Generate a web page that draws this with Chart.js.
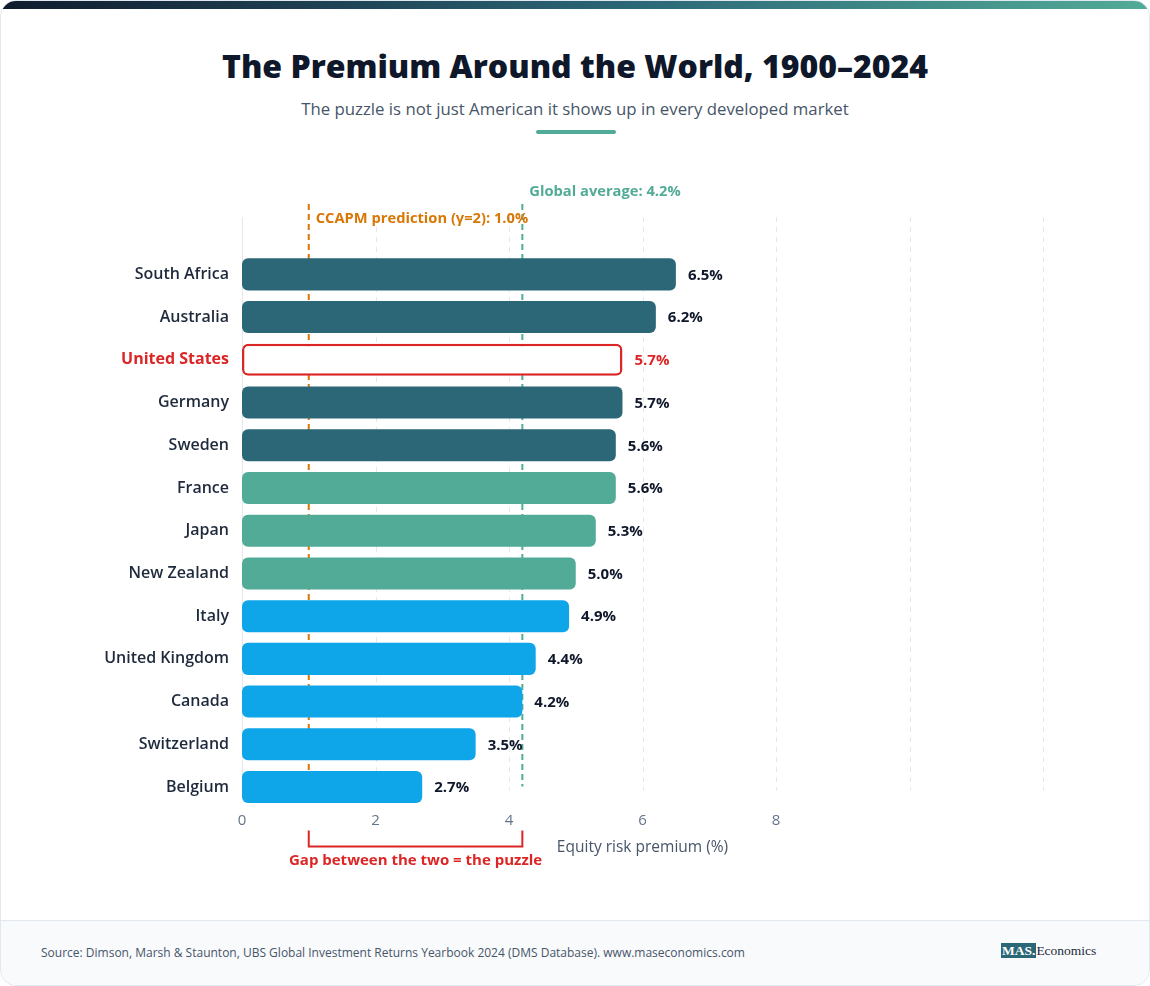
<!DOCTYPE html>
<html>
<head>
<meta charset="utf-8">
<script src="https://cdn.jsdelivr.net/npm/chart.js@4.4.1/dist/chart.umd.min.js"></script>
<style>
  html, body { margin: 0; padding: 0; background: #ffffff; }
  body { width: 1150px; height: 986px; position: relative; font-family: "Open Sans", sans-serif; }
  .card {
    position: absolute; left: 0; top: 0; width: 1150px; height: 986px;
    box-sizing: border-box; border: 1px solid #e2e8f0; border-radius: 16px;
    overflow: hidden; background: #ffffff;
  }
  .topbar {
    position: absolute; left: 0; top: 0; width: 100%; height: 8px;
    background: linear-gradient(90deg, #0f1b2d 0%, #2c6777 55%, #52ab97 100%);
  }
  h1 {
    position: absolute; left: 0; top: 45px; width: 100%; margin: 0;
    text-align: center; font-size: 32px; line-height: 40px; font-weight: 800;
    color: #0f172a; letter-spacing: 0;
  }
  .sub {
    position: absolute; left: 0; top: 96px; width: 100%; margin: 0;
    text-align: center; font-size: 16.8px; line-height: 24px; color: #475569;
  }
  .accent {
    position: absolute; left: 535px; top: 129px; width: 80px; height: 4px;
    border-radius: 2px; background: #52ab97;
  }
  .chart-wrap { position: absolute; left: 0; top: 150px; width: 1150px; height: 770px; }
  footer {
    position: absolute; left: 0; top: 919px; width: 100%; height: 67px;
    background: #f8fafc; border-top: 1px solid #e2e8f0;
  }
  .source {
    position: absolute; left: 40px; top: 24px; font-size: 12px; line-height: 16px; color: #475569;
  }
  .logo {
    position: absolute; left: 1000px; top: 22px; font-family: "Liberation Serif", "DejaVu Serif", serif;
    font-size: 13.5px; line-height: 16px; color: #1e293b;
  }
  .logo b { background: #2c6777; color: #ffffff; padding: 0 1px; font-weight: 700; }
</style>
</head>
<body>
<div class="card">
  <div class="topbar"></div>
  <h1>The Premium Around the World, 1900–2024</h1>
  <p class="sub">The puzzle is not just American it shows up in every developed market</p>
  <div class="accent"></div>
  <div class="chart-wrap"><canvas id="premiumChart"></canvas></div>
  <footer>
    <div class="source">Source: Dimson, Marsh &amp; Staunton, UBS Global Investment Returns Yearbook 2024 (DMS Database). www.maseconomics.com</div>
    <div class="logo"><b>MAS.</b>Economics</div>
  </footer>
</div>
<script>
const countries = ['South Africa', 'Australia', 'United States', 'Germany', 'Sweden', 'France', 'Japan',
  'New Zealand', 'Italy', 'United Kingdom', 'Canada', 'Switzerland', 'Belgium'];
const premiums = [6.5, 6.2, 5.7, 5.7, 5.6, 5.6, 5.3, 5.0, 4.9, 4.4, 4.2, 3.5, 2.7];
const tiers = ['top', 'top', 'us', 'top', 'top', 'mid', 'mid', 'mid', 'low', 'low', 'low', 'low', 'low'];
const ccapmPrediction = 1.0;
const globalAverage = 4.2;
const axisMax = 12;
const lastLabelledTick = 8;

const tierColors = { top: '#2c6777', mid: '#52ab97', low: '#0ea5e9', us: '#ffffff' };
const red = '#dc2626';
const orange = '#d97706';
const teal = '#52ab97';
const ink = '#0f172a';

// grid + the two reference lines, drawn under the bars
const backdrop = {
  id: 'backdrop',
  beforeDatasetsDraw(chart) {
    const { ctx, chartArea, scales: { x } } = chart;
    ctx.save();
    ctx.lineWidth = 1;
    ctx.strokeStyle = '#e5e7eb';
    x.ticks.forEach(t => {
      const px = Math.round(x.getPixelForValue(t.value)) + 0.5;
      ctx.setLineDash(t.value === 0 ? [] : [5, 5]);
      ctx.beginPath();
      ctx.moveTo(px, chartArea.top - 36);
      ctx.lineTo(px, chartArea.bottom - 18);
      ctx.stroke();
    });

    const refLine = (value, color) => {
      const px = x.getPixelForValue(value);
      ctx.strokeStyle = color;
      ctx.lineWidth = 2;
      ctx.setLineDash([6, 4]);
      ctx.beginPath();
      ctx.moveTo(px, chartArea.top - 49);
      ctx.lineTo(px, chartArea.bottom - 22);
      ctx.stroke();
    };
    refLine(ccapmPrediction, orange);
    refLine(globalAverage, teal);

    ctx.setLineDash([]);
    ctx.font = '700 14.7px "Open Sans"';
    ctx.textBaseline = 'middle';
    ctx.textAlign = 'left';
    ctx.fillStyle = orange;
    ctx.fillText('CCAPM prediction (γ=2): 1.0%', x.getPixelForValue(ccapmPrediction) + 7, chartArea.top - 34);
    ctx.fillStyle = teal;
    ctx.fillText('Global average: 4.2%', x.getPixelForValue(globalAverage) + 7, chartArea.top - 61);
    ctx.restore();
  },
  afterDatasetsDraw(chart) {
    const { ctx, chartArea, scales: { x } } = chart;
    ctx.save();
    ctx.font = '700 15px "Open Sans"';
    ctx.textBaseline = 'middle';
    ctx.textAlign = 'left';
    chart.getDatasetMeta(0).data.forEach((bar, i) => {
      ctx.fillStyle = tiers[i] === 'us' ? red : ink;
      ctx.fillText(premiums[i].toFixed(1) + '%', bar.x + 12, bar.y + 1);
    });

    // bracket marking the gap between the prediction and the average
    const x1 = x.getPixelForValue(ccapmPrediction);
    const x2 = x.getPixelForValue(globalAverage);
    const yTop = chartArea.bottom + 22;
    const yBot = chartArea.bottom + 38;
    ctx.strokeStyle = red;
    ctx.lineWidth = 2;
    ctx.beginPath();
    ctx.moveTo(x1, yTop);
    ctx.lineTo(x1, yBot);
    ctx.lineTo(x2, yBot);
    ctx.lineTo(x2, yTop);
    ctx.stroke();
    ctx.fillStyle = red;
    ctx.textAlign = 'center';
    ctx.fillText('Gap between the two = the puzzle', (x1 + x2) / 2, yBot + 14);
    ctx.restore();
  }
};

new Chart(document.getElementById('premiumChart').getContext('2d'), {
  type: 'bar',
  data: {
    labels: countries,
    datasets: [{
      data: premiums,
      backgroundColor: tiers.map(t => tierColors[t]),
      borderColor: tiers.map(t => t === 'us' ? red : tierColors[t]),
      borderWidth: tiers.map(t => t === 'us' ? 2.5 : 0),
      borderRadius: 6,
      borderSkipped: false,
      categoryPercentage: 1,
      barPercentage: 0.75
    }]
  },
  options: {
    indexAxis: 'y',
    responsive: true,
    maintainAspectRatio: false,
    animation: false,
    layout: { padding: { left: 0, right: 108, top: 102, bottom: 64 } },
    plugins: { legend: { display: false }, tooltip: { enabled: false } },
    scales: {
      x: {
        min: 0,
        max: axisMax,
        grid: { display: false, drawTicks: false },
        border: { display: false },
        ticks: {
          stepSize: 2,
          padding: 3,
          color: '#64748b',
          font: { family: 'Open Sans', size: 15 },
          callback: v => v <= lastLabelledTick ? v : ''
        },
        title: {
          display: true,
          text: 'Equity risk premium (%)',
          color: '#475569',
          font: { family: 'Open Sans', size: 15.5 },
          padding: { top: 6, bottom: 0 }
        }
      },
      y: {
        grid: { display: false, drawTicks: false },
        border: { display: false },
        afterFit: s => { s.width = 241; },
        ticks: {
          padding: 13,
          color: ctx => tiers[ctx.index] === 'us' ? red : '#1e293b',
          font: ctx => ({ family: 'Open Sans', size: 16, weight: tiers[ctx.index] === 'us' ? '700' : '600' })
        }
      }
    }
  },
  plugins: [backdrop]
});
</script>
</body>
</html>
